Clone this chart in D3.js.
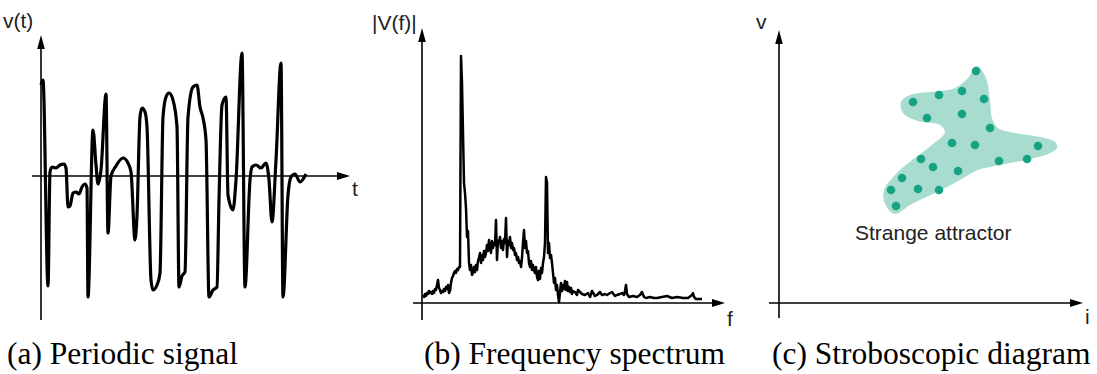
<!DOCTYPE html>
<html><head><meta charset="utf-8">
<script src="https://cdn.jsdelivr.net/npm/d3@7"></script>
<style>body{margin:0;background:#fff} svg{display:block}</style>
</head><body><svg id="c" width="1097" height="374"></svg>
<script>
// (a) chaotic time signal v(t), arbitrary units
const signalT = [0,2,7,9,11,15,19,23,25,27,29,32,35,38,41,44,46,47,52,55,57,60,65,67,70,75,82,87,90,94,96,99,101,104,106,110,112,116,119,122,125,128,132,136,138,141,144,147,152,156,159,162,165,168,172,176,178,181,185,187,192,195,201,204,209,211,215,220,225,228,231,235,240,242,247,250,254,259,265];
const signalV = [91,96,-110,4,9,8,11,12,8,-31,-30,-17,-16,-18,-11,-8,-12,-121,46,11,-8,6,82,-57,0,10,18,13,4,-64,-39,59,68,64,49,-104,-114,-109,-97,59,79,83,76,49,-111,-100,-96,59,89,91,69,58,36,-121,-114,-111,-24,71,79,-19,-34,-4,123,-111,-4,9,11,8,13,-4,-46,16,113,-121,-19,-1,2,-6,2];
// (b) amplitude spectrum |V(f)|
const specF = [1,2,3,4,5,6,7,8,9,10,11,12,13,14,15,16,17,18,19,20,21,22,23,24,25,26,27,28,29,30,31,32,33,34,35,36,37,38,39,40,41,42,43,
  44,45,46,47,48,49,50,51,52,53,54,55,56,57,58,59,60,61,62,63,64,65,66,67,68,69,70,71,72,73,74,75,76,77,78,79,80,81,82,83,84,85,86,87,88,89,90,
  91,92,93,94,95,96,97,98,99,100,101,102,103,104,105,106,107,108,109,110,111,112,113,114,115,116,117,118,119,120,121,122,123,124,125,126,127,128,129,130,
  131,132,133,134,135,136,137,139,140,141,142,143,144,145,146,147,148,149,150,151,153,155,156,158,160,163,166,168,170,173,175,178,180,183,185,188,190,193,195,198,
  200,202,203,204,205,207,211,215,218,220,222,224,228,232,235,240,245,250,255,261,266,270,271,272,274,280];
const specA = [8,6,9,7,10,9,12,10,11,9,12,10,14,13,18,23,15,13,10,12,11,14,12,16,14,18,10,12,20,25,27,30,32,30,34,33,36,36,247,220,170,120,110,
  95,66,72,40,33,38,28,30,36,31,38,33,42,45,50,40,48,43,52,46,50,58,52,63,55,50,62,55,60,58,83,43,62,60,66,55,62,53,64,60,85,46,62,58,66,55,60,
  53,55,48,50,43,46,40,42,36,45,60,73,55,62,50,52,40,36,42,33,38,33,30,36,26,23,32,24,35,30,40,46,60,126,120,50,60,45,48,40,
  30,20,25,13,18,8,1,20,12,18,14,22,13,21,12,16,11,15,9,12,11,8,13,11,9,8,10,6,12,7,8,11,8,9,8,10,11,7,8,9,
  10,8,12,18,9,6,7,6,8,11,6,5,6,5,5,6,7,5,6,5,5,8,10,6,4,4];
// (c) stroboscopic (Poincaré) diagram: attractor outline and sampled points
const blobI = [198,207,211,213,219,236,261,276,278,269,246,221,199,181,156,131,116,106,105,116,133,153,166,161,139,124,122,131,151,176,189];
const blobV = [237,225,203,185,175,170,166,161,155,149,143,138,133,123,110,98,89,99,113,128,143,158,171,178,182,190,201,208,211,215,225];
const dotI = [197,134,160,183,205,148,183,211,173,196,259,142,154,179,220,248,123,112,139,160,117];
const dotV = [232,201,208,212,204,185,189,175,160,158,157,144,136,132,142,144,125,113,114,113,97];
const captions = ["(a) Periodic signal","(b) Frequency spectrum","(c) Stroboscopic diagram"];
const axisNames = [["v(t)","t"],["|V(f)|","f"],["v","i"]];

const svg = d3.select("#c");
svg.append("rect").attr("width",1097).attr("height",374).attr("fill","#fff");

const panels = [
  {x:d3.scaleLinear().domain([0,300]).range([41,341]), y:d3.scaleLinear().domain([-150,150]).range([326,26]),
   xa:[-9,309], ya:[-144,141], x0:0, y0:0},
  {x:d3.scaleLinear().domain([0,300]).range([422,722]), y:d3.scaleLinear().domain([0,280]).range([303,23]),
   xa:[-9,303], ya:[-17,275], x0:0, y0:0},
  {x:d3.scaleLinear().domain([0,300]).range([779,1079]), y:d3.scaleLinear().domain([0,280]).range([303,23]),
   xa:[-10,304], ya:[-15,273], x0:0, y0:0}
];

function axes(p){
  const g = svg.append("g");
  const X=p.x, Y=p.y;
  g.append("line").attr("x1",X(p.xa[0])).attr("x2",X(p.xa[1])-6).attr("y1",Y(p.y0)).attr("y2",Y(p.y0))
    .attr("stroke","#000").attr("stroke-width",1.6);
  g.append("line").attr("x1",X(p.x0)).attr("x2",X(p.x0)).attr("y1",Y(p.ya[0])).attr("y2",Y(p.ya[1])+6)
    .attr("stroke","#000").attr("stroke-width",1.6);
  const tx=X(p.xa[1]), ty=Y(p.y0);
  g.append("path").attr("d",`M${tx},${ty}L${tx-13},${ty-4}L${tx-13},${ty+4}Z`).attr("fill","#000");
  const ux=X(p.x0), uy=Y(p.ya[1]);
  g.append("path").attr("d",`M${ux},${uy}L${ux-3.8},${uy+14}L${ux+3.8},${uy+14}Z`).attr("fill","#000");
}
panels.forEach(axes);

// (a) signal
const pa = panels[0];
const sig = signalT.map((t,i)=>[t,signalV[i]]);
svg.append("path").datum(sig)
  .attr("d", d3.line().x(d=>pa.x(d[0])).y(d=>pa.y(d[1])).curve(d3.curveMonotoneX))
  .attr("fill","none").attr("stroke","#000").attr("stroke-width",3.2).attr("stroke-linejoin","round");

// (b) spectrum
const pb = panels[1];
const spec = specF.map((f,i)=>[f,specA[i]]);
svg.append("path").datum(spec)
  .attr("d", d3.line().x(d=>pb.x(d[0])).y(d=>pb.y(d[1])))
  .attr("fill","none").attr("stroke","#000").attr("stroke-width",2.5).attr("stroke-linejoin","round");

// (c) attractor
const pc = panels[2];
const blob = blobI.map((v,i)=>[v,blobV[i]]);
svg.append("path").datum(blob)
  .attr("d", d3.line().x(d=>pc.x(d[0])).y(d=>pc.y(d[1])).curve(d3.curveCatmullRomClosed.alpha(0.5)))
  .attr("fill","#a8dccf").attr("stroke","none");
svg.append("g").selectAll("circle").data(dotI.map((v,i)=>[v,dotV[i]])).join("circle")
  .attr("cx",d=>pc.x(d[0])).attr("cy",d=>pc.y(d[1])).attr("r",4.3).attr("fill","#17a284");

// labels
const sans = "'Liberation Sans', Arial, sans-serif";
const lab = [
  [axisNames[0][0],3,28],[axisNames[0][1],352,196],
  [axisNames[1][0],372,30],[axisNames[1][1],727,326],
  [axisNames[2][0],756,29],[axisNames[2][1],1085,324]
];
svg.append("g").selectAll("text").data(lab).join("text")
  .attr("x",d=>d[1]).attr("y",d=>d[2]).text(d=>d[0])
  .attr("font-family",sans).attr("font-size",21).attr("fill","#222");
svg.append("text").attr("x",855).attr("y",240).text("Strange attractor")
  .attr("font-family",sans).attr("font-size",21).attr("fill","#222");

const capX = [7,424,772];
svg.append("g").selectAll("text").data(captions).join("text")
  .attr("x",(d,i)=>capX[i]).attr("y",364).text(d=>d)
  .attr("font-family","'Liberation Serif','Times New Roman',serif").attr("font-size",31.5).attr("fill","#000");
</script></body></html>
